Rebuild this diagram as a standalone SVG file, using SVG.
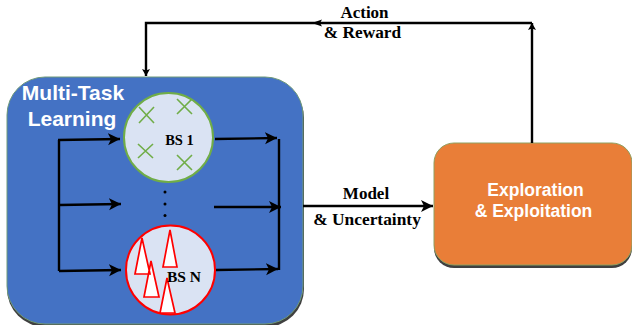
<svg xmlns="http://www.w3.org/2000/svg" width="632" height="325" viewBox="0 0 632 325">
<defs>
<marker id="a" markerUnits="userSpaceOnUse" markerWidth="14" markerHeight="14" refX="12" refY="6" orient="auto"><path d="M0 0L12 6L0 12L3 6Z" fill="#000"/></marker>
<marker id="s" markerUnits="userSpaceOnUse" markerWidth="10" markerHeight="10" refX="7" refY="4" orient="auto"><path d="M0 0L7 4L0 8L1.5 4Z" fill="#000"/></marker>
</defs>
<style>
.l{fill:none;stroke:#000;stroke-width:2.4}
.x{fill:none;stroke:#70ad47;stroke-width:1.6}
.t{fill:#fff;stroke:#f00;stroke-width:1.7}
.s{font-family:"Liberation Serif",serif;font-weight:700;fill:#000;text-anchor:middle}
.w{font-family:"Liberation Sans",sans-serif;fill:#fff;text-anchor:middle}
</style>
<rect width="632" height="325" fill="#fff"/>
<g id="multi-task">
<rect x="7" y="80" width="297" height="247" rx="38" fill="#404040"/>
<rect x="7" y="77" width="296" height="247" rx="38" fill="#4472c4" stroke="#6f9a7a" stroke-width="1"/>
<text class="w" font-size="21" font-weight="700" x="73" y="100">Multi-Task</text>
<text class="w" font-size="21" font-weight="700" x="72" y="126">Learning</text>
</g>
<g id="bs1">
<circle cx="168.500" cy="137.500" r="44.500" fill="#dae3f3" stroke="#70ad47" stroke-width="2"/>
<path class="x" d="M139 107L154 123M154 107L139 123M177 99L192 114M192 99L177 114M138 144L153 158M153 144L138 158M177 155L192 170M192 155L177 170"/>
<text class="s" font-size="14.500" x="179.500" y="145">BS 1</text>
</g>
<g id="dots" fill="#000"><circle cx="165" cy="192" r="1.500"/><circle cx="165" cy="204" r="1.500"/><circle cx="165" cy="215.500" r="1.500"/></g>
<g id="bsn">
<circle cx="170.500" cy="270" r="44.500" fill="#dae3f3" stroke="#f00" stroke-width="2"/>
<path class="t" d="M142 238L135 274H150ZM170 230L163 267H177ZM151 261L144 297H159ZM167 278L160 313H175Z"/>
<text class="s" font-size="15.500" x="184" y="282">BS N</text>
</g>
<g id="exploration">
<rect x="434" y="146" width="198" height="122" rx="20" fill="#404040"/>
<rect x="434" y="143" width="198" height="122" rx="20" fill="#e97e38" stroke="#8fa060" stroke-width="1"/>
<text class="w" font-size="17.500" font-weight="700" x="535.500" y="196">Exploration</text>
<text class="w" font-size="17.500" font-weight="700" x="533.500" y="217">&amp; Exploitation</text>
</g>
<g id="connectors">
<path class="l" d="M59 140V271"/>
<path class="l" d="M279 139V270"/>
<path class="l" marker-end="url(#a)" d="M58 140L120 139"/>
<path class="l" marker-end="url(#a)" d="M59 205L121 204"/>
<path class="l" marker-end="url(#a)" d="M59 271L121 270"/>
<path class="l" marker-end="url(#a)" d="M215 139L277 138"/>
<path class="l" marker-end="url(#a)" d="M214 207L281 207"/>
<path class="l" marker-end="url(#a)" d="M216 270L278 269"/>
<path class="l" marker-end="url(#a)" d="M303 206H433"/>
<path class="l" marker-end="url(#s)" d="M532 143V23"/>
<path class="l" marker-end="url(#s)" d="M532 23H146V76"/>
<path fill="#000" d="M312 23L322 19.500L320 23L322 26.500Z"/>
</g>
<g id="labels">
<text class="s" font-size="17" x="364.500" y="18">Action</text>
<text class="s" font-size="17.300" x="362.500" y="38">&amp; Reward</text>
<text class="s" font-size="17" x="366" y="199">Model</text>
<text class="s" font-size="17.400" x="367" y="225">&amp; Uncertainty</text>
</g>
</svg>
